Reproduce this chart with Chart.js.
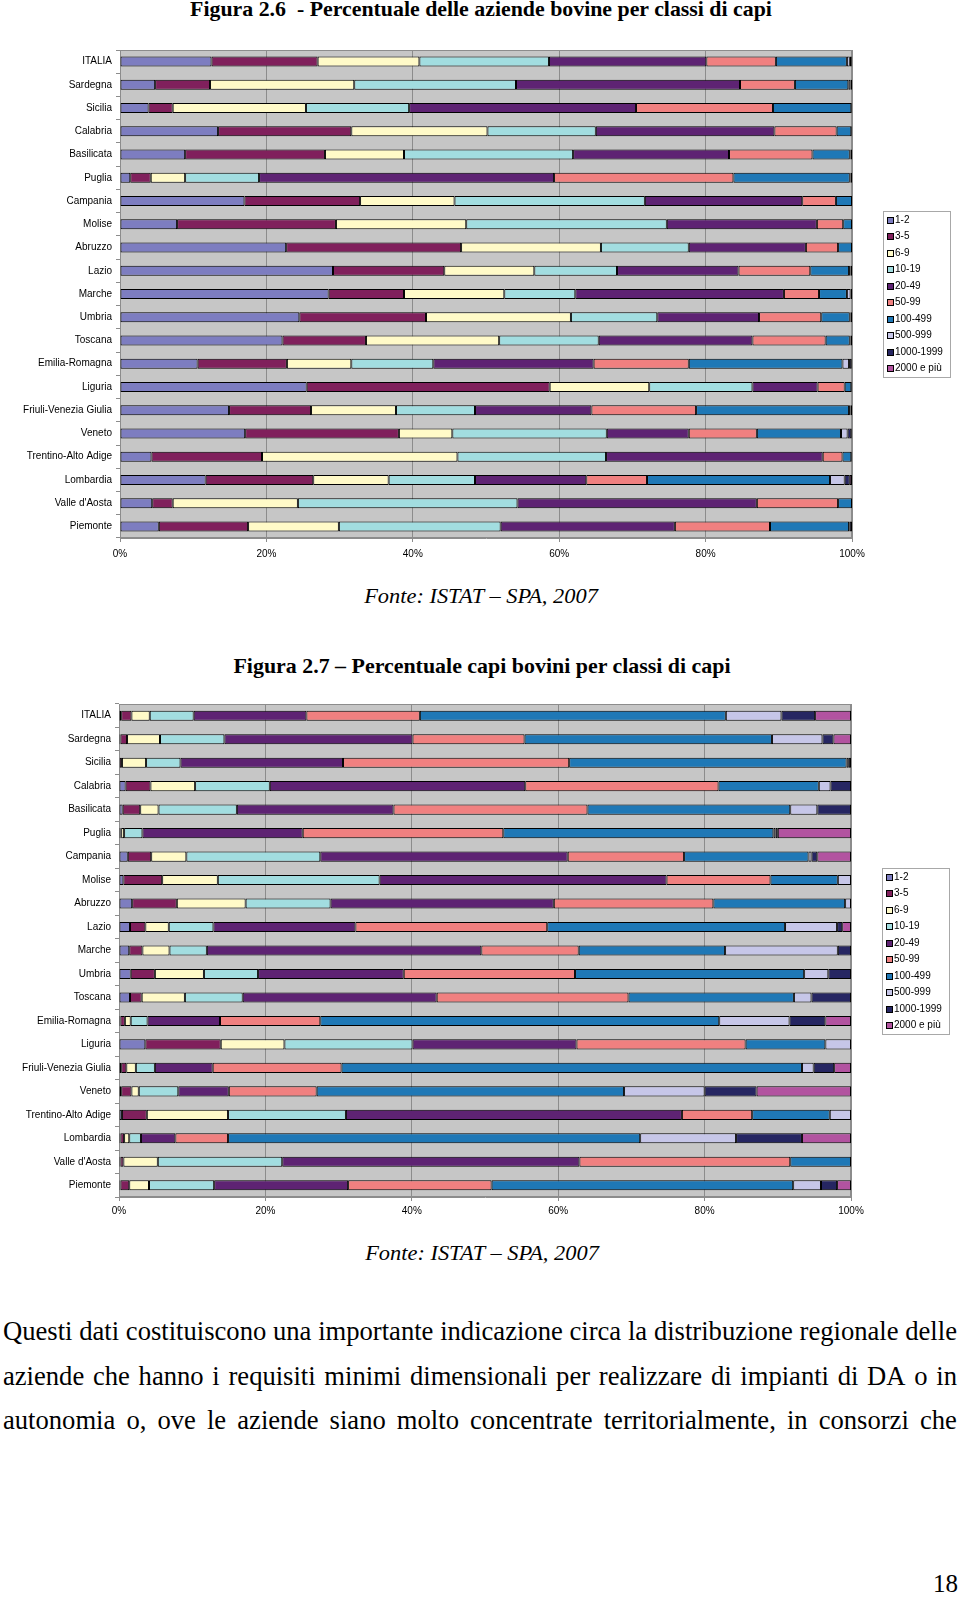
<!DOCTYPE html>
<html>
<head>
<meta charset="utf-8">
<script src="https://cdn.jsdelivr.net/npm/chart.js@4/dist/chart.umd.min.js"></script>
<style>
body{margin:0;width:960px;height:1597px;background:#fff;position:relative;overflow:hidden;font-family:"Liberation Serif","Times New Roman",serif;color:#000;}
.t{position:absolute;white-space:pre;line-height:1;transform-origin:center;}
.line{position:absolute;left:3px;display:flex;justify-content:space-between;line-height:1;font-size:28px;white-space:nowrap;transform-origin:left top;}
canvas{position:absolute;left:0;}
</style>
</head>
<body>
<canvas id="chart1" width="960" height="530" style="top:40px"></canvas>
<canvas id="chart2" width="960" height="537" style="top:690px"></canvas>
<script>
const regions = ['ITALIA', 'Sardegna', 'Sicilia', 'Calabria', 'Basilicata', 'Puglia', 'Campania', 'Molise', 'Abruzzo', 'Lazio',
  'Marche', 'Umbria', 'Toscana', 'Emilia-Romagna', 'Liguria', 'Friuli-Venezia Giulia', 'Veneto', 'Trentino-Alto Adige',
  'Lombardia', "Valle d'Aosta", 'Piemonte'];
const classes = ['1-2', '3-5', '6-9', '10-19', '20-49', '50-99', '100-499', '500-999', '1000-1999', '2000 e più'];
const xTicks = [0, 20, 40, 60, 80, 100];

// Figura 2.6 - % aziende per classe (one array per class, regions in order)
const az_1_2     = [12.5, 4.8, 3.9, 13.4, 8.9, 1.4, 17.0, 7.8, 22.7, 29.1, 28.5, 24.5, 22.2, 10.6, 25.5, 14.9, 17.1, 4.3, 11.7, 4.4, 5.3];
const az_3_5     = [14.5, 7.5, 3.3, 18.2, 19.1, 2.8, 15.8, 21.7, 23.9, 15.2, 10.3, 17.3, 11.4, 12.2, 33.2, 11.2, 21.0, 15.1, 14.7, 2.8, 12.2];
const az_6_9     = [13.9, 19.7, 18.2, 18.6, 10.8, 4.7, 12.9, 17.8, 19.1, 12.3, 13.7, 19.8, 18.2, 8.8, 13.6, 11.6, 7.3, 26.7, 10.3, 17.1, 12.4];
const az_10_19   = [17.7, 22.1, 14.1, 14.8, 23.1, 10.1, 26.0, 27.4, 12.0, 11.3, 9.7, 11.8, 13.6, 11.2, 14.1, 10.8, 21.1, 20.3, 11.8, 30.0, 22.1];
const az_20_49   = [21.5, 30.6, 31.0, 24.4, 21.3, 40.3, 21.5, 20.5, 16.0, 16.6, 28.5, 13.9, 21.0, 21.9, 8.9, 15.9, 11.2, 29.6, 15.2, 32.7, 23.8];
const az_50_99   = [9.5, 7.5, 18.7, 8.5, 11.4, 24.5, 4.6, 3.6, 4.4, 9.8, 4.8, 8.5, 10.0, 13.0, 3.7, 14.3, 9.3, 2.7, 8.3, 11.1, 13.0];
const az_100_499 = [9.7, 7.3, 10.7, 2.0, 5.1, 15.9, 2.2, 1.2, 1.9, 5.3, 3.8, 3.9, 3.3, 21.0, 0.9, 20.9, 11.5, 1.2, 25.0, 1.9, 10.8];
const az_500_999 = [0.4, 0.3, 0.1, 0, 0.1, 0.1, 0, 0, 0, 0.2, 0.5, 0.1, 0.1, 0.9, 0.1, 0.2, 0.9, 0.1, 2.0, 0, 0.1];
const az_1000    = [0.2, 0.2, 0, 0.1, 0.2, 0.2, 0, 0, 0, 0.2, 0.2, 0.2, 0.2, 0.3, 0, 0.2, 0.5, 0, 0.7, 0, 0.3];
const az_2000    = [0.1, 0, 0, 0, 0, 0, 0, 0, 0, 0, 0, 0, 0, 0.1, 0, 0, 0.1, 0, 0.3, 0, 0];

// Figura 2.7 - % capi per classe
const capi_1_2     = [0.3, 0.2, 0.1, 0.9, 0.5, 0.2, 1.2, 0.6, 1.8, 1.5, 1.4, 1.6, 1.5, 0.2, 3.6, 0.3, 0.3, 0.4, 0.2, 0.2, 0.2];
const capi_3_5     = [1.4, 0.9, 0.3, 3.4, 2.4, 0.1, 3.2, 5.3, 6.1, 2.1, 1.8, 3.3, 1.6, 0.6, 10.3, 0.7, 1.4, 3.4, 0.5, 0.4, 1.2];
const capi_6_9     = [2.5, 4.5, 3.3, 6.1, 2.5, 0.4, 4.8, 7.6, 9.4, 3.2, 3.7, 6.7, 5.9, 0.8, 8.7, 1.3, 1.0, 11.1, 0.7, 4.7, 2.7];
const capi_10_19   = [6.0, 8.8, 4.7, 10.2, 10.7, 2.5, 18.3, 22.1, 11.6, 6.1, 5.1, 7.4, 7.9, 2.3, 17.5, 2.6, 5.4, 16.1, 1.6, 17.0, 8.9];
const capi_20_49   = [15.4, 25.7, 22.2, 34.9, 21.4, 21.9, 33.8, 39.2, 30.5, 19.4, 37.5, 19.9, 26.5, 9.9, 22.4, 7.9, 6.9, 45.9, 4.7, 40.6, 18.3];
const capi_50_99   = [15.5, 15.3, 30.9, 26.4, 26.5, 27.4, 15.9, 14.2, 21.8, 26.2, 13.3, 23.4, 26.2, 13.7, 23.1, 17.6, 12.0, 9.6, 7.2, 28.8, 19.6];
const capi_100_499 = [41.8, 33.8, 37.9, 13.7, 27.7, 36.9, 17.0, 9.2, 18.0, 32.5, 20.0, 31.3, 22.6, 54.5, 10.9, 62.9, 42.0, 10.6, 56.3, 8.3, 41.2];
const capi_500_999 = [7.6, 6.9, 0.3, 1.6, 3.7, 0.3, 0.4, 1.8, 0.8, 7.1, 15.4, 3.3, 2.4, 9.6, 3.5, 1.6, 11.0, 2.9, 13.1, 0, 3.8];
const capi_1000    = [4.6, 1.5, 0.3, 2.8, 4.6, 0.3, 0.8, 0, 0, 0.7, 1.8, 3.1, 5.4, 4.9, 0, 2.8, 7.1, 0, 9.0, 0, 2.2];
const capi_2000    = [4.9, 2.4, 0, 0, 0, 10.0, 4.6, 0, 0, 1.2, 0, 0, 0, 3.5, 0, 2.3, 12.9, 0, 6.7, 0, 1.9];

const colors = ['#7d7dc0', '#80205c', '#fffac8', '#a2dde0', '#5e2373', '#f08080', '#1f78b6', '#c6c6e8', '#262662', '#b253a0'];

const aziende = [az_1_2, az_3_5, az_6_9, az_10_19, az_20_49, az_50_99, az_100_499, az_500_999, az_1000, az_2000];
const capi = [capi_1_2, capi_3_5, capi_6_9, capi_10_19, capi_20_49, capi_50_99, capi_100_499, capi_500_999, capi_1000, capi_2000];

// grey plot area with thin border, like the Excel original
const plotBg = {
  id: 'plotBg',
  beforeDraw(chart) {
    const { ctx, chartArea: a } = chart;
    ctx.save();
    ctx.fillStyle = '#c6c6c6';
    ctx.fillRect(a.left, a.top, a.width, a.height);
    ctx.strokeStyle = '#8c8c8c';
    ctx.lineWidth = 1;
    ctx.strokeRect(a.left + 0.5, a.top + 0.5, a.width - 1, a.height - 1);
    ctx.restore();
  }
};

// boxed legend to the right of the plot, vertically centred
const boxLegend = {
  id: 'boxLegend',
  afterDraw(chart) {
    const { ctx, chartArea: a } = chart;
    const sets = chart.data.datasets;
    const rowH = 16.5, w = 67, h = sets.length * rowH + 1;
    const x0 = Math.round(a.right + 31), y0 = Math.round((a.top + a.bottom) / 2 - h / 2);
    ctx.save();
    ctx.fillStyle = '#fff';
    ctx.fillRect(x0, y0, w, h);
    ctx.strokeStyle = '#a8a8a8';
    ctx.lineWidth = 1;
    ctx.strokeRect(x0 + 0.5, y0 + 0.5, w, h);
    ctx.font = '10px "Liberation Sans", Arial, sans-serif';
    ctx.textBaseline = 'middle';
    sets.forEach((ds, i) => {
      const cy = Math.round(y0 + 8.5 + i * rowH);
      ctx.fillStyle = ds.backgroundColor;
      ctx.fillRect(x0 + 4, cy - 3, 6, 6);
      ctx.strokeStyle = '#000';
      ctx.strokeRect(x0 + 4.5, cy - 2.5, 6, 6);
      ctx.fillStyle = '#000';
      ctx.fillText(ds.label, x0 + 12, cy + 0.5);
    });
    ctx.restore();
  }
};

const axisFont = { family: '"Liberation Sans", Arial, sans-serif', size: 10 };

function makeChart(id, series, geo) {
  return new Chart(document.getElementById(id), {
    type: 'bar',
    data: {
      labels: regions,
      datasets: classes.map((c, i) => ({
        label: c,
        data: series[i],
        backgroundColor: colors[i],
        borderColor: '#000',
        borderWidth: 1,
        borderSkipped: false,
        categoryPercentage: 1,
        barPercentage: 0.43
      }))
    },
    options: {
      indexAxis: 'y',
      responsive: false,
      animation: false,
      devicePixelRatio: 1,
      layout: { padding: { top: geo.padTop, right: geo.padRight, left: 0, bottom: 0 } },
      plugins: { legend: { display: false }, tooltip: { enabled: false } },
      scales: {
        x: {
          stacked: true,
          min: 0,
          max: 100,
          afterBuildTicks: s => { s.ticks = xTicks.map(v => ({ value: v })); },
          ticks: { callback: v => v + '%', color: '#000', font: axisFont, padding: geo.tickPad, maxRotation: 0 },
          grid: { color: '#8c8c8c', tickColor: '#8c8c8c', tickLength: 4 },
          border: { color: '#8c8c8c' },
          afterFit: s => { s.height = geo.xHeight; }
        },
        y: {
          stacked: true,
          ticks: { color: '#000', font: axisFont, padding: 4, autoSkip: false },
          grid: { drawOnChartArea: false, color: '#8c8c8c', tickLength: 4 },
          border: { color: '#8c8c8c' },
          afterFit: s => { s.width = geo.left; }
        }
      }
    },
    plugins: [plotBg, boxLegend]
  });
}

makeChart('chart1', aziende, { padTop: 7, padRight: 108, xHeight: 32, tickPad: 6, left: 120 });
makeChart('chart2', capi, { padTop: 14, padRight: 109, xHeight: 30, tickPad: 4, left: 119 });

// page text
function addText(txt, cx, baseline, size, width, style) {
  const el = document.createElement('div');
  el.className = 't';
  el.textContent = txt;
  el.style.fontSize = size + 'px';
  Object.assign(el.style, style || {});
  document.body.appendChild(el);
  el.style.left = cx + 'px';
  el.style.top = (baseline - 0.8375 * size) + 'px';
  const k = width ? width / el.offsetWidth : 1;
  el.style.transform = 'translateX(-50%) scaleX(' + k + ')';
  return el;
}

addText('Figura 2.6  - Percentuale delle aziende bovine per classi di capi', 481, 16.7, 22, 582, { fontWeight: 'bold' });
addText('Fonte: ISTAT \u2013 SPA, 2007', 481, 603, 20, 234, { fontStyle: 'italic' });
addText('Figura 2.7 \u2013 Percentuale capi bovini per classi di capi', 481.5, 673, 22, 497, { fontWeight: 'bold' });
addText('Fonte: ISTAT \u2013 SPA, 2007', 481.5, 1260, 20, 234, { fontStyle: 'italic' });

// justified body text, slightly condensed serif like the scanned page
const paragraph = [
  'Questi dati costituiscono una importante indicazione circa la distribuzione regionale delle',
  'aziende che hanno i requisiti minimi dimensionali per realizzare di impianti di DA o in',
  'autonomia o, ove le aziende siano molto concentrate territorialmente, in consorzi che'
];
const baselines = [1340, 1385, 1429];
const squeeze = 0.95;
paragraph.forEach((ln, i) => {
  const row = document.createElement('div');
  row.className = 'line';
  row.style.width = (954 / squeeze) + 'px';
  row.style.transform = 'scaleX(' + squeeze + ')';
  row.style.top = (baselines[i] - 0.8375 * 28) + 'px';
  ln.split(' ').forEach(w => {
    const s = document.createElement('span');
    s.textContent = w;
    row.appendChild(s);
  });
  document.body.appendChild(row);
});

const pg = document.createElement('div');
pg.className = 't';
pg.textContent = '18';
pg.style.fontSize = '25px';
pg.style.right = '2px';
pg.style.top = (1592 - 0.8375 * 25) + 'px';
document.body.appendChild(pg);
</script>
</body>
</html>
